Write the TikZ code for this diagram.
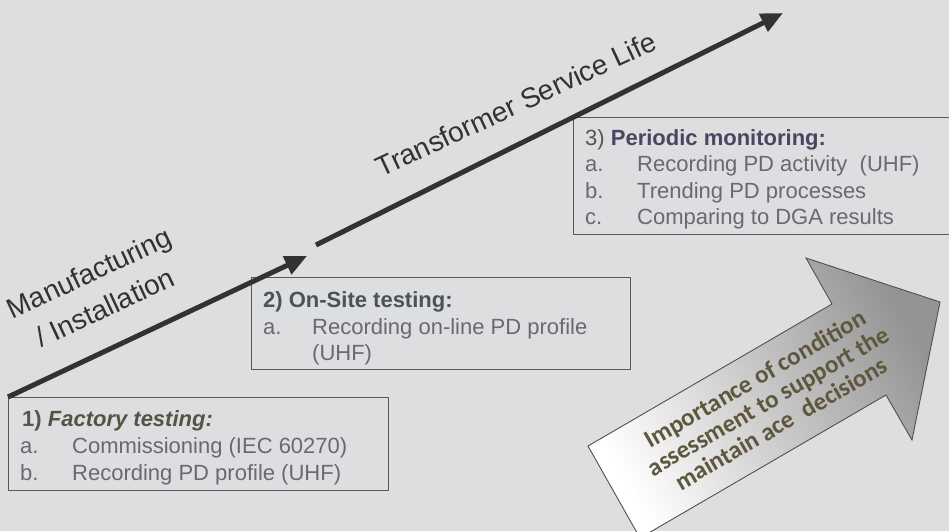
\documentclass[tikz,border=0pt]{standalone}
\usepackage{fontspec}
\setmainfont{Liberation Sans}
\newfontfamily\arrowfont{Carlito}
\usetikzlibrary{arrows.meta}

\definecolor{paper}{RGB}{220,222,223}
\definecolor{inkline}{RGB}{50,50,50}
\definecolor{boxline}{RGB}{88,88,90}
\definecolor{itemink}{RGB}{105,105,112}
\definecolor{titleA}{RGB}{88,82,70}
\definecolor{titleB}{RGB}{78,81,90}
\definecolor{titleC}{RGB}{74,70,98}
\definecolor{numink}{RGB}{85,85,88}
\definecolor{arrowink}{RGB}{94,87,62}
\definecolor{arrowedge}{RGB}{80,80,80}

\tikzset{
  lifeline/.style={draw=inkline, line width=5pt,
    -{Triangle[length=22pt,width=19pt]}},
  listbox/.style={draw=boxline, line width=1.3pt, inner sep=0pt,
    anchor=north west},
  entry/.style={anchor=base west, inner sep=0pt, text=itemink,
    font=\fontsize{22}{27}\selectfont},
  phase/.style={inner sep=0pt, text=inkline, align=center,
    font=\fontsize{28}{38}\selectfont},
}

\begin{document}
\begin{tikzpicture}[x=1pt,y=-1pt]
\useasboundingbox (0,0) rectangle (949,531);
\clip (0,0) rectangle (949,531);
\fill[paper] (0,0) rectangle (949,531);

% ---- list boxes ----
\node[listbox, minimum width=380pt, minimum height=93pt] (b1) at (8,397) {};
\node[listbox, minimum width=379pt, minimum height=92pt] (b2) at (251,277) {};
\node[listbox, minimum width=390pt, minimum height=117pt] (b3) at (573,117) {};

% box 1
\node[entry] (b1t) at (22,426) {\textcolor{numink}{\bfseries 1)} \textcolor{titleA}{\bfseries\itshape Factory testing:}};
\node[entry] (b1al) at (20,453) {a.};
\node[entry] (b1a) at (72,453) {Commissioning (IEC 60270)};
\node[entry] (b1bl) at (20,480) {b.};
\node[entry] (b1b) at (72,480) {Recording PD profile (UHF)};

% box 2
\node[entry] (b2t) at (263,307) {\textcolor{titleB}{\bfseries 2) On-Site testing:}};
\node[entry] (b2al) at (263,334) {a.};
\node[entry] (b2a) at (312,334) {Recording on-line PD profile};
\node[entry] (b2a2) at (312,360) {(UHF)};

% box 3
\node[entry] (b3t) at (585,145) {\textcolor{numink}{3)} \textcolor{titleC}{\bfseries Periodic monitoring:}};
\node[entry] (b3al) at (585,171) {a.};
\node[entry] (b3a) at (637,171) {Recording PD activity\ \ (UHF)};
\node[entry] (b3bl) at (585,198) {b.};
\node[entry] (b3b) at (637,198) {Trending PD processes};
\node[entry] (b3cl) at (585,224) {c.};
\node[entry] (b3c) at (637,224) {Comparing to DGA results};

% ---- service life timeline ----
\coordinate (m1) at (307,256);
\coordinate (s1) at (316,245);
\coordinate (s2) at (783,13);
\draw[lifeline] (b1.north west) -- (m1);
\draw[lifeline] (s1) -- (s2);

\node[phase, rotate=25] (manu) at (97,290) {Manufacturing\\/ Installation};
\node[phase, rotate=25] (life) at (516,104) {Transformer Service Life};

% ---- condition assessment arrow ----
\shadedraw[draw=arrowedge, line width=0.9pt, line join=miter,
  left color=white, right color=black!42, shading angle=120]
  (588,446) -- (832,304) -- (806,258) -- (940,302) -- (912,440)
  -- (886,395) -- (640,538) -- cycle;
\node[inner sep=0pt, rotate=30, align=center, text=arrowink,
  font=\arrowfont\bfseries\fontsize{25}{26}\selectfont] (cond) at (768,401)
  {Importance of condition\\assessment to support the\\maintain ace\ \ decisions};
\end{tikzpicture}
\end{document}
